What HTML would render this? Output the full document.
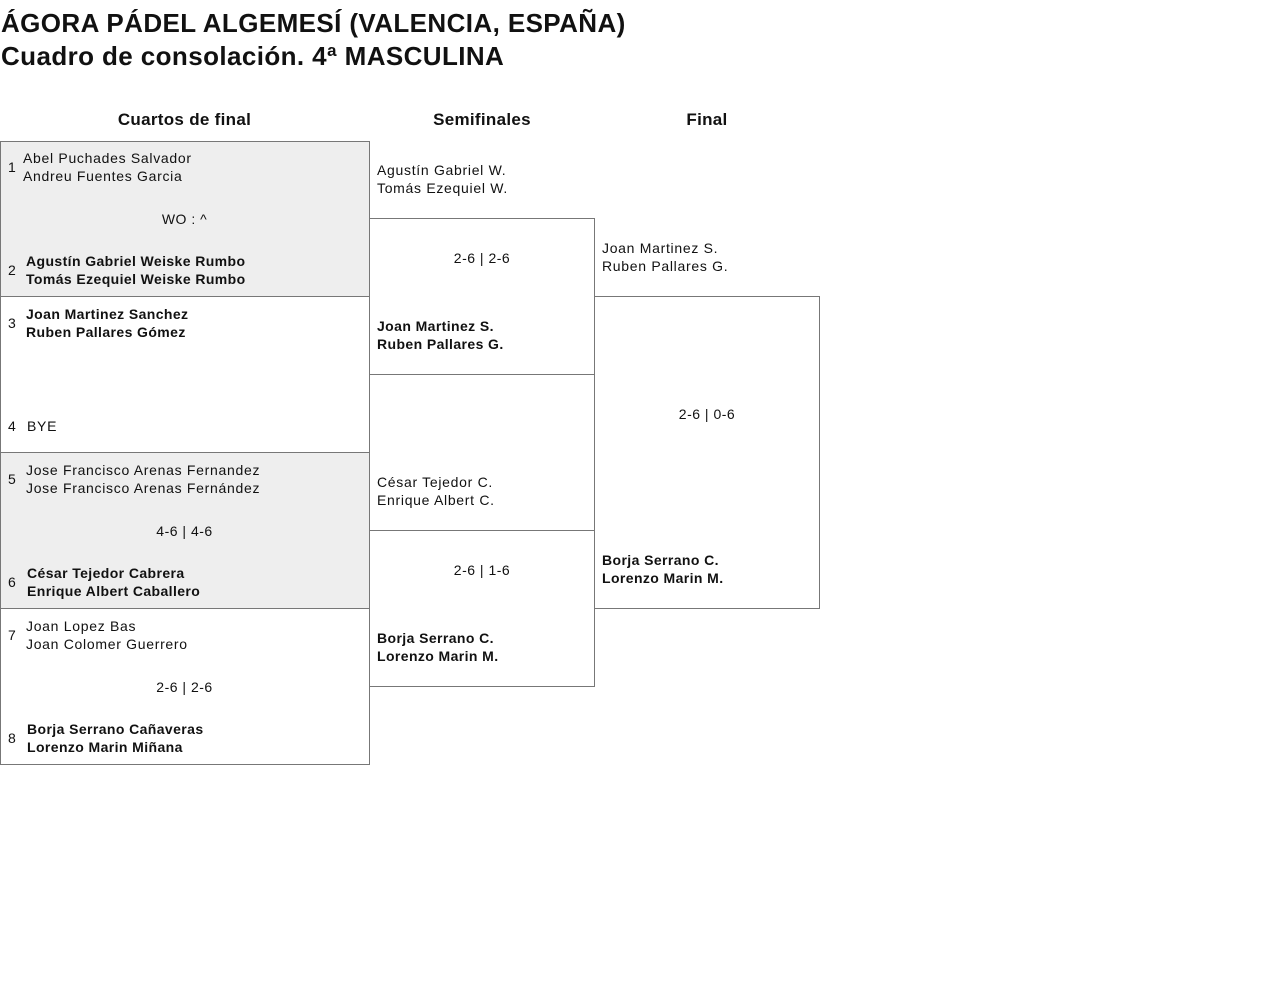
<!DOCTYPE html>
<html><head><meta charset="utf-8"><style>
body{margin:0;width:1280px;height:982px;background:#fff;font-family:"Liberation Sans",sans-serif;color:#111;position:relative;overflow:hidden}
div{position:absolute}
.t{font-size:26px;font-weight:bold;left:1px;letter-spacing:0.4px;white-space:nowrap}
.h{font-size:17px;font-weight:bold;text-align:center;top:110px;letter-spacing:0.3px}
.b{border:1px solid #777;box-sizing:border-box}
.g{background:#eee}
.n{font-size:14px;line-height:18px;white-space:nowrap;letter-spacing:0.7px}
.s{font-weight:bold;letter-spacing:0.4px}
.c{font-size:14px;text-align:center;line-height:18px;letter-spacing:0.5px}
</style></head><body>
<div class="t" style="top:8px">ÁGORA PÁDEL ALGEMESÍ (VALENCIA, ESPAÑA)</div>
<div class="t" style="top:41px">Cuadro de consolación. 4ª MASCULINA</div>
<div class="h" style="left:0;width:369px">Cuartos de final</div>
<div class="h" style="left:369px;width:226px">Semifinales</div>
<div class="h" style="left:594px;width:226px">Final</div>

<div class="b g" style="left:0;top:141px;width:370px;height:156px"></div>
<div class="b" style="left:0;top:296px;width:370px;height:157px"></div>
<div class="b g" style="left:0;top:452px;width:370px;height:157px"></div>
<div class="b" style="left:0;top:608px;width:370px;height:157px"></div>
<div class="b" style="left:369px;top:218px;width:226px;height:157px"></div>
<div class="b" style="left:369px;top:530px;width:226px;height:157px"></div>
<div class="b" style="left:594px;top:296px;width:226px;height:313px"></div>

<div class="n" style="left:8px;top:158px">1</div>
<div class="n" style="left:23px;top:149px">Abel Puchades Salvador<br>Andreu Fuentes Garcia</div>
<div class="c" style="left:0;width:369px;top:210px">WO : ^</div>
<div class="n" style="left:8px;top:261px">2</div>
<div class="n s" style="left:26px;top:252px">Agustín Gabriel Weiske Rumbo<br>Tomás Ezequiel Weiske Rumbo</div>

<div class="n" style="left:8px;top:314px">3</div>
<div class="n s" style="left:26px;top:305px">Joan Martinez Sanchez<br>Ruben Pallares Gómez</div>
<div class="n" style="left:8px;top:417px">4</div>
<div class="n" style="left:27px;top:417px">BYE</div>

<div class="n" style="left:8px;top:470px">5</div>
<div class="n" style="left:26px;top:461px">Jose Francisco Arenas Fernandez<br>Jose Francisco Arenas Fernández</div>
<div class="c" style="left:0;width:369px;top:522px">4-6 | 4-6</div>
<div class="n" style="left:8px;top:573px">6</div>
<div class="n s" style="left:27px;top:564px">César Tejedor Cabrera<br>Enrique Albert Caballero</div>

<div class="n" style="left:8px;top:626px">7</div>
<div class="n" style="left:26px;top:617px">Joan Lopez Bas<br>Joan Colomer Guerrero</div>
<div class="c" style="left:0;width:369px;top:678px">2-6 | 2-6</div>
<div class="n" style="left:8px;top:729px">8</div>
<div class="n s" style="left:27px;top:720px">Borja Serrano Cañaveras<br>Lorenzo Marin Miñana</div>

<div class="n" style="left:377px;top:161px">Agustín Gabriel W.<br>Tomás Ezequiel W.</div>
<div class="c" style="left:369px;width:226px;top:249px">2-6 | 2-6</div>
<div class="n s" style="left:377px;top:317px">Joan Martinez S.<br>Ruben Pallares G.</div>
<div class="n" style="left:377px;top:473px">César Tejedor C.<br>Enrique Albert C.</div>
<div class="c" style="left:369px;width:226px;top:561px">2-6 | 1-6</div>
<div class="n s" style="left:377px;top:629px">Borja Serrano C.<br>Lorenzo Marin M.</div>

<div class="n" style="left:602px;top:239px">Joan Martinez S.<br>Ruben Pallares G.</div>
<div class="c" style="left:594px;width:226px;top:405px">2-6 | 0-6</div>
<div class="n s" style="left:602px;top:551px">Borja Serrano C.<br>Lorenzo Marin M.</div>
</body></html>
